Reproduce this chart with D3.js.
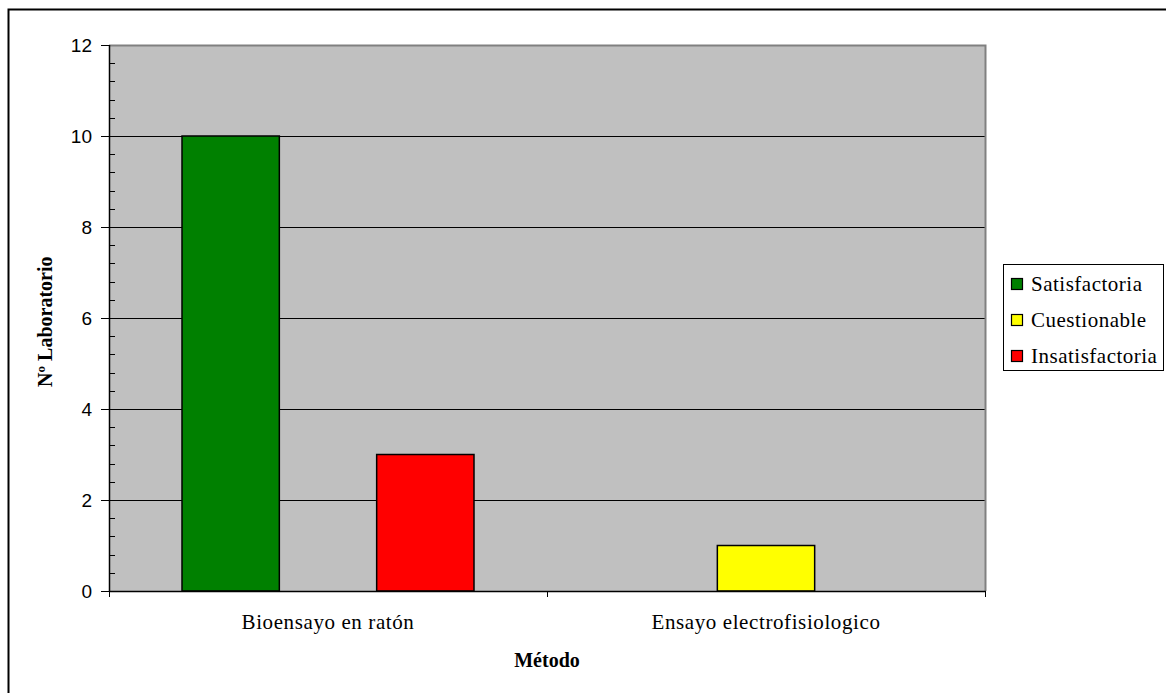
<!DOCTYPE html>
<html><head><meta charset="utf-8">
<script src="https://cdn.jsdelivr.net/npm/d3@7"></script>
<style>body{margin:0;background:#fff}svg{display:block}</style>
</head><body>
<svg id="c" width="1166" height="693"></svg>
<script>
const categories = ["Bioensayo en ratón", "Ensayo electrofisiologico"];
const seriesNames = ["Satisfactoria", "Cuestionable", "Insatisfactoria"];
const satisfactoria = [10, 0];
const cuestionable = [0, 1];
const insatisfactoria = [3, 0];
const yTicks = [0, 2, 4, 6, 8, 10, 12];
const colors = ["#008000", "#ffff00", "#ff0000"];

const SERIF = "'Liberation Serif', 'Times New Roman', serif";
const SANS = "'Liberation Sans', Arial, sans-serif";
const seriesValues = [satisfactoria, cuestionable, insatisfactoria];
const svg = d3.select("#c");
const L = 109, R = 985, T = 45, B = 591;

// outer frame
svg.append("rect").attr("x", 8.5).attr("y", 9.5).attr("width", 1170).attr("height", 700)
  .attr("fill", "#fff").attr("stroke", "#000").attr("stroke-width", 2);

const x0 = d3.scaleBand().domain(categories).range([L, R]).paddingInner(0).paddingOuter(0);
const bw = x0.bandwidth() / 4.5;
const x1 = d3.scaleBand().domain(seriesNames).range([bw * 0.75, bw * 3.75]).padding(0);
const y = d3.scaleLinear().domain([0, 12]).range([B, T]);

// plot background
svg.append("rect").attr("x", L).attr("y", T).attr("width", R - L).attr("height", B - T).attr("fill", "#c0c0c0");

// gridlines
svg.append("g").selectAll("line").data(yTicks.filter(d => d > 0 && d < 12)).join("line")
  .attr("x1", L).attr("x2", R).attr("y1", d => Math.round(y(d)) + 0.5).attr("y2", d => Math.round(y(d)) + 0.5)
  .attr("stroke", "#000").attr("stroke-width", 1);

// plot border top/right
svg.append("path").attr("d", `M${L},${T + 0.5}H${R + 0.5}V${B}`).attr("fill", "none")
  .attr("stroke", "#808080").attr("stroke-width", 2);

// bars
const data = [];
categories.forEach((c, i) => seriesNames.forEach((s, j) => {
  data.push({ c, s, v: seriesValues[j][i], color: colors[j] });
}));
svg.append("g").selectAll("rect").data(data.filter(d => d.v > 0)).join("rect")
  .attr("x", d => x0(d.c) + x1(d.s)).attr("width", x1.bandwidth())
  .attr("y", d => y(d.v)).attr("height", d => B - y(d.v))
  .attr("fill", d => d.color).attr("stroke", "#000").attr("stroke-width", 1.5);

// y axis
const yAxis = d3.axisLeft(y).tickValues(yTicks).tickSize(8).tickPadding(9).tickFormat(d3.format("d"));
const gy = svg.append("g").attr("transform", `translate(${L},0)`).call(yAxis);
gy.select(".domain").attr("stroke", "#000").attr("stroke-width", 1.5).attr("d", `M0.5,${T}V${B}`);
gy.selectAll(".tick line").attr("stroke", "#000");
gy.selectAll(".tick text").style("font-family", SANS).style("font-size", "19px").attr("fill", "#000");
// minor ticks inside
const minor = d3.range(0, 12.001, 0.4).filter(v => Math.abs(v / 2 - Math.round(v / 2)) > 1e-6);
svg.append("g").selectAll("line").data(minor).join("line")
  .attr("x1", L).attr("x2", L + 6).attr("y1", d => Math.round(y(d)) + 0.5).attr("y2", d => Math.round(y(d)) + 0.5)
  .attr("stroke", "#000").attr("stroke-width", 1);

// x axis
svg.append("line").attr("x1", L).attr("x2", R + 1).attr("y1", B + 0.5).attr("y2", B + 0.5).attr("stroke", "#000").attr("stroke-width", 1.5);
const xEdges = [L, ...categories.map(c => x0(c) + x0.bandwidth())];
svg.append("g").selectAll("line").data(xEdges).join("line")
  .attr("x1", d => d + 0.5).attr("x2", d => d + 0.5).attr("y1", B).attr("y2", B + 6)
  .attr("stroke", "#000").attr("stroke-width", 1);
svg.append("g").selectAll("text").data(categories).join("text")
  .attr("x", d => x0(d) + x0.bandwidth() / 2).attr("y", 629).attr("text-anchor", "middle")
  .style("font-family", SERIF).style("font-size", "21px").style("letter-spacing", "0.6px").text(d => d);

// axis titles
svg.append("text").attr("x", 547).attr("y", 667).attr("text-anchor", "middle")
  .style("font-family", SERIF).style("font-size", "20px").style("font-weight", "bold").text("Método");
svg.append("text").attr("transform", "translate(52,387) rotate(-90)").attr("text-anchor", "start")
  .style("font-family", SERIF).style("font-size", "20px").style("font-weight", "bold").text("Nº Laboratorio");

// legend
const lg = svg.append("g");
lg.append("rect").attr("x", 1003.5).attr("y", 264.5).attr("width", 160).attr("height", 106)
  .attr("fill", "#fff").attr("stroke", "#000").attr("stroke-width", 1);
seriesNames.forEach((s, j) => {
  const cy = 284 + j * 36;
  lg.append("rect").attr("x", 1011.5).attr("y", cy - 5.5).attr("width", 11).attr("height", 11)
    .attr("fill", colors[j]).attr("stroke", "#000").attr("stroke-width", 1.2);
  lg.append("text").attr("x", 1031).attr("y", cy + 7)
    .style("font-family", SERIF).style("font-size", "21px").style("letter-spacing", "0.5px").text(s);
});
</script>
</body></html>
